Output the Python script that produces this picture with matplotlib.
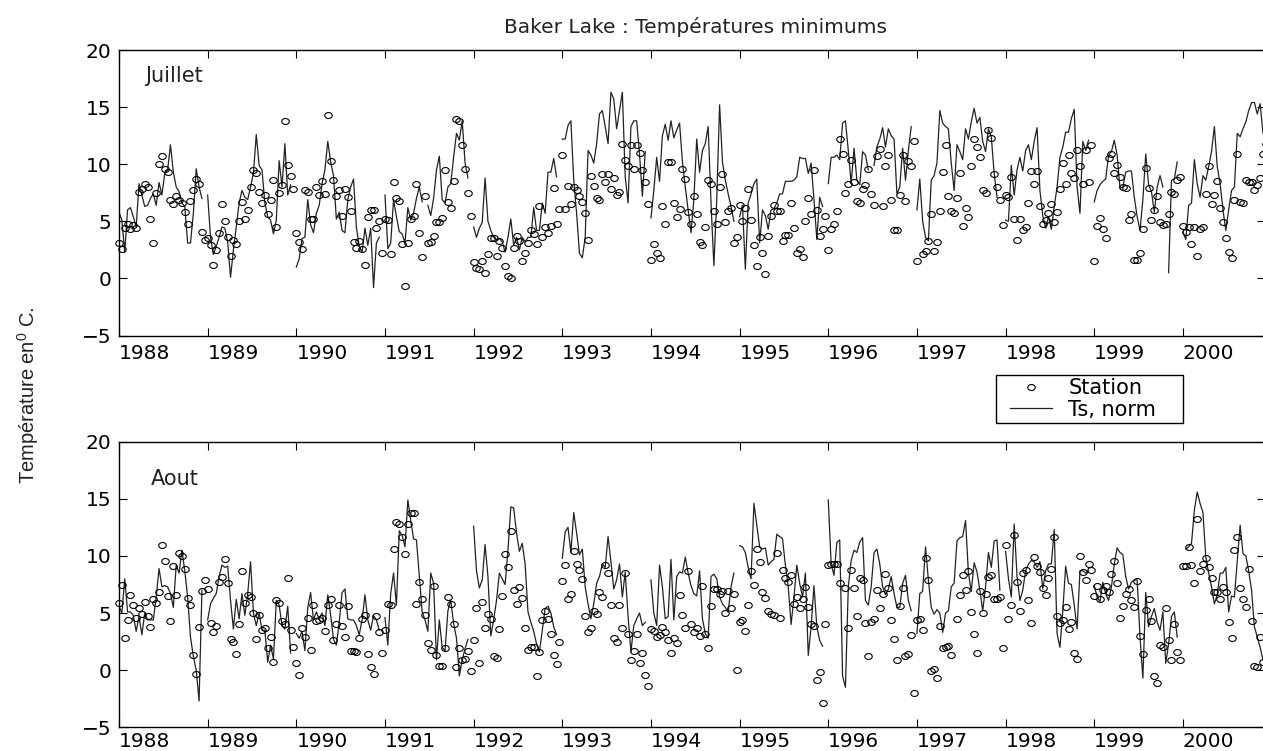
import matplotlib
matplotlib.use('Agg')
import matplotlib.pyplot as plt
import numpy as np
from matplotlib.legend_handler import HandlerLine2D
from matplotlib.lines import Line2D
from matplotlib.markers import MarkerStyle
from matplotlib.transforms import Affine2D

nan = float('nan')

annees = ['1988', '1989', '1990', '1991', '1992', '1993', '1994',
          '1995', '1996', '1997', '1998', '1999', '2000']

# une ligne par annee, 31 jours
station_juillet = [
    [3.1,2.6,4.4,4.75,4.3,4.7,4.4,7.6,7.8,8.3,8.0,5.2,3.1,7.5,10.0,10.7,9.6,9.3,6.9,6.5,7.2,6.9,6.6,5.8,4.8,6.8,7.7,8.7,8.3,4.1,3.4],
    [3.5,2.9,1.2,2.5,4.0,6.5,5.0,3.6,2.0,3.4,3.0,5.0,6.7,5.2,6.0,8.0,9.5,9.2,7.6,6.6,7.3,5.6,6.9,8.6,4.5,7.5,8.2,13.8,9.9,9.0,7.8],
    [4.0,3.2,2.6,7.7,7.6,5.2,5.2,8.0,7.3,8.5,7.4,14.3,10.3,8.6,7.2,7.7,5.5,7.8,7.1,5.9,3.2,2.7,3.3,2.6,1.2,5.4,6.0,6.0,4.4,5.0,2.2],
    [5.2,5.1,2.1,8.4,7.0,6.8,3.0,-0.7,3.1,5.2,5.5,8.3,4.0,1.9,7.2,3.1,3.2,3.7,4.9,4.9,5.3,9.5,6.7,6.2,8.5,14.0,13.8,11.7,9.6,7.5,5.5],
    [1.4,0.9,0.8,1.5,0.5,2.1,3.5,3.5,2.0,3.3,2.7,1.1,0.2,0.0,2.7,3.7,3.3,1.5,2.2,3.1,4.2,3.9,3.0,6.3,3.6,4.5,4.0,4.6,7.9,4.8,6.1],
    [10.8,6.1,8.1,6.5,8.0,7.7,7.2,6.7,5.7,3.4,9.0,8.1,7.0,6.9,9.1,8.4,9.1,7.8,8.8,7.3,7.6,11.8,10.4,9.8,11.7,9.6,11.7,11.0,9.5,8.4,6.5],
    [1.6,3.0,2.2,1.8,6.3,4.8,10.2,10.2,6.6,5.4,6.1,9.6,8.7,5.8,4.8,7.2,5.6,3.2,2.9,4.5,8.6,8.3,5.9,4.8,8.0,9.1,4.9,5.9,6.2,3.1,3.6],
    [6.4,5.0,6.2,7.8,5.1,2.9,1.1,3.6,2.2,0.4,3.7,5.5,6.4,5.9,5.9,3.3,3.8,3.8,6.6,4.4,2.2,2.6,1.9,5.0,7.0,5.6,9.5,6.0,3.7,4.3,5.5],
    [2.5,4.3,4.8,5.9,12.2,10.9,7.5,8.3,10.4,8.4,6.8,6.6,7.8,8.2,9.6,7.4,6.4,10.7,11.3,6.3,9.8,10.8,6.9,4.2,4.2,7.3,10.8,6.8,10.3,9.8,12.0],
    [1.5,nan,2.1,2.4,3.3,5.6,2.4,3.2,5.9,9.3,11.7,7.2,5.9,5.7,7.0,9.2,4.6,6.2,5.4,9.8,12.2,11.5,10.6,7.7,7.5,13.0,12.3,9.1,8.0,6.9,4.7],
    [7.3,7.1,8.9,5.2,3.4,5.2,4.2,4.5,6.6,9.4,8.3,9.4,6.3,4.8,5.1,5.7,6.5,4.9,5.8,7.8,10.1,8.3,10.8,9.2,8.8,11.2,9.8,8.3,11.2,8.4,11.7],
    [1.5,4.6,5.3,4.3,3.5,10.5,10.9,9.2,9.9,8.9,8.0,7.9,5.1,5.6,1.6,1.6,2.2,4.3,9.7,7.9,5.1,6.0,7.2,4.9,4.7,4.8,5.6,7.6,7.4,8.6,8.9],
    [4.6,4.1,4.5,3.0,4.5,2.0,4.3,4.5,7.4,9.8,6.5,7.3,8.5,6.2,4.9,3.5,2.3,1.8,6.9,10.9,6.7,6.6,8.6,8.4,8.4,7.7,8.2,8.8,10.9,11.8],
]

ts_juillet = [
    [5.8,5.1,2.3,6.0,6.2,5.4,4.5,8.3,7.3,6.3,6.4,7.0,7.4,6.4,8.4,7.3,9.2,9.5,11.7,9.3,8.0,7.6,6.6,6.3,3.1,3.1,5.7,9.6,8.0,7.0],
    [7.3,3.6,2.1,2.8,3.6,4.5,4.4,3.2,0.1,2.5,4.5,6.6,7.7,7.1,6.9,8.0,9.2,12.6,9.9,9.5,6.6,5.4,5.1,3.9,5.1,10.3,8.0,11.8,7.3,8.2],
    [1.0,1.7,3.5,3.6,6.9,4.7,4.0,5.7,6.4,8.3,9.5,12.0,10.2,9.0,5.2,5.8,4.2,4.0,6.9,8.0,8.7,4.5,2.8,2.3,4.4,2.9,4.4,-0.8,3.1,3.6],
    [7.3,2.6,3.1,6.9,5.4,4.1,3.9,3.1,6.2,5.1,5.7,7.0,8.0,6.7,nan,6.4,5.5,7.0,9.5,10.7,6.9,6.6,8.0,8.3,10.6,12.7,12.1,13.8,10.1,8.8],
    [4.5,3.6,4.4,4.9,8.8,5.0,4.2,3.6,3.4,3.5,3.2,2.3,3.6,5.2,2.9,3.6,2.5,3.6,3.2,3.6,3.6,6.2,4.2,4.2,6.6,5.7,9.3,9.3,10.5,8.9],
    [12.2,12.2,13.4,13.8,8.6,5.7,2.2,1.8,3.6,11.2,10.8,10.1,11.8,14.4,14.7,13.3,11.8,16.3,15.7,13.1,14.7,16.3,8.9,6.6,13.3,13.8,13.8,10.9,7.2,11.1],
    [5.3,7.7,10.6,8.5,12.5,13.5,12.1,13.8,12.3,13.0,13.6,10.2,8.0,6.0,4.0,6.9,12.2,9.3,11.2,11.8,13.3,6.6,1.1,6.9,15.2,10.2,8.6,7.4,6.3,5.0],
    [5.4,6.4,0.8,6.6,7.4,8.3,8.7,3.1,6.0,5.5,4.3,6.0,6.1,6.6,7.4,7.4,8.5,8.5,8.5,8.6,8.9,10.6,10.5,10.5,9.2,10.1,6.9,3.4,7.1,6.3],
    [8.3,10.6,10.6,10.8,10.4,13.6,13.8,11.2,8.3,11.4,8.6,8.2,11.1,10.8,9.5,nan,9.9,11.5,12.2,13.2,11.5,13.1,12.5,12.2,7.4,8.0,11.4,8.6,11.2,13.3],
    [6.0,8.7,5.0,3.6,3.3,8.6,9.0,10.1,14.7,13.6,13.3,13.1,10.1,7.7,11.7,11.1,10.4,13.1,12.2,13.7,14.9,13.6,14.1,12.0,11.1,13.1,12.4,9.2,7.1],
    [5.1,5.0,9.9,7.3,9.5,10.6,9.4,11.2,11.7,10.4,12.0,13.2,7.7,5.5,4.4,5.4,4.3,6.3,8.0,10.6,11.5,12.8,12.8,14.0,14.8,8.0,5.7,12.0,11.2,12.1],
    [6.7,7.7,8.2,8.5,8.7,10.8,11.1,12.1,10.8,7.9,8.0,9.3,9.4,9.4,7.1,5.4,4.2,6.9,10.9,8.2,7.6,5.8,8.0,9.0,8.0,nan,0.5,8.6,8.7,10.2],
    [4.1,3.4,6.4,6.6,10.4,8.3,7.1,9.0,8.6,9.8,11.1,13.3,9.8,8.3,6.0,4.2,6.0,7.7,8.0,12.7,12.4,13.1,13.7,14.7,15.4,15.4,14.4,15.3,12.7],
]

station_aout = [
    [5.9,7.5,2.8,4.4,6.6,5.7,4.6,5.4,4.9,6.0,4.7,3.8,6.2,5.9,6.8,11.0,9.6,6.5,4.3,9.1,6.6,10.3,10.0,8.9,6.3,5.7,1.3,-0.3,3.8,6.9,7.9],
    [7.1,4.1,3.3,3.9,7.7,8.2,9.7,7.6,2.7,2.5,1.4,4.0,8.7,5.9,6.6,6.4,5.0,2.7,4.8,3.5,3.7,1.9,2.9,0.7,6.1,5.9,4.3,4.0,8.1,3.5,2.0],
    [0.6,-0.4,3.7,2.9,4.6,1.8,5.7,4.3,4.4,4.6,3.4,5.7,6.2,2.6,4.0,5.7,3.9,2.9,5.6,1.7,1.7,1.6,2.8,4.5,4.8,1.4,0.3,-0.3,4.7,3.3,1.5],
    [3.5,5.8,5.7,10.6,13.0,12.8,11.7,10.2,12.8,13.8,13.8,5.8,7.7,6.2,4.8,2.4,1.8,7.4,1.3,0.4,0.4,1.9,6.4,5.8,4.0,0.3,1.9,0.9,1.0,1.7,-0.1],
    [2.6,5.4,0.6,6.0,3.7,4.9,4.5,1.2,1.1,3.6,6.5,10.2,9.0,12.2,7.0,5.8,7.3,6.3,3.7,1.8,2.0,2.0,-0.5,1.6,4.4,5.2,4.5,3.2,1.3,0.5,2.5],
    [7.8,9.2,6.2,6.7,10.4,9.3,8.8,8.0,4.7,3.3,3.7,5.2,4.9,6.8,6.4,9.2,8.5,5.7,2.8,2.5,5.7,3.7,8.5,3.2,0.9,1.7,3.2,0.6,1.5,-0.4,-1.4],
    [3.6,3.4,2.9,3.1,3.8,3.3,2.6,1.5,2.8,2.4,6.6,4.8,3.7,8.7,4.0,3.3,3.7,3.0,7.4,3.2,1.9,5.6,7.1,7.1,6.7,6.9,5.0,6.9,5.4,6.7,0.0],
    [4.2,4.4,3.4,5.7,8.7,7.5,10.6,9.5,6.8,6.3,5.2,4.9,4.8,10.3,4.6,8.8,8.1,7.7,8.3,5.8,6.4,5.4,6.2,7.3,5.5,4.0,3.9,-0.9,-0.2,-2.9,4.0],
    [9.2,9.3,9.3,9.3,7.6,nan,7.2,3.7,8.8,7.2,4.7,8.1,7.9,4.1,1.2,4.2,4.5,7.0,5.4,6.7,8.4,7.2,4.4,2.7,0.9,5.6,7.2,1.2,1.4,3.1,-2.0],
    [4.4,4.5,3.5,9.8,7.9,-0.1,0.1,-0.7,3.9,1.9,2.0,2.1,1.3,nan,4.5,6.6,8.3,7.0,8.7,5.1,3.2,1.5,6.9,5.0,6.7,8.2,8.3,6.2,6.2,6.4,1.9],
    [11.0,4.5,5.7,11.8,7.7,5.2,8.5,8.8,6.1,4.1,9.9,9.1,8.6,7.2,6.6,8.1,8.9,11.7,4.7,4.1,4.4,5.5,3.6,4.2,1.5,1.0,10.0,8.6,7.9,9.3,8.8],
    [6.5,7.4,6.2,7.0,7.4,6.8,8.4,9.6,7.6,4.6,5.6,6.7,7.1,6.1,5.5,7.8,3.0,1.4,5.3,6.2,4.3,-0.5,-1.1,2.2,2.0,5.4,2.6,0.9,4.0,1.6,0.9],
    [9.1,9.1,10.8,9.2,7.6,13.2,8.7,9.3,9.8,9.0,8.1,6.8,6.8,6.2,7.3,6.8,4.2,2.8,10.5,11.7,7.2,6.2,5.5,8.9,4.3,0.4,0.3,2.9,0.7],
]

ts_aout = [
    [5.6,5.0,8.0,5.1,5.1,4.8,3.4,4.7,3.1,5.0,4.4,4.4,4.4,6.4,8.9,7.3,7.4,7.3,6.7,5.5,9.2,8.5,10.5,8.7,6.4,2.9,1.2,0.0,-2.7,7.0],
    [4.4,5.8,6.3,6.7,8.2,9.2,9.0,9.1,6.1,3.6,6.2,4.5,6.7,4.8,6.7,9.5,5.0,3.9,5.0,3.5,3.5,0.7,2.2,1.0,6.1,5.7,3.9,3.6,5.6,1.5],
    [3.2,2.8,3.4,1.7,5.5,6.8,4.4,5.1,4.5,5.0,3.9,6.6,4.8,2.7,2.2,4.2,6.8,7.1,4.5,4.4,4.4,3.9,3.1,4.4,6.6,4.4,3.5,4.8,4.4,3.5],
    [4.6,2.2,6.7,8.5,5.7,12.2,11.8,10.8,14.9,13.1,11.5,11.4,8.2,5.1,4.4,3.4,8.5,7.6,0.9,4.4,2.0,1.7,5.2,6.1,4.1,2.8,-0.5,0.9,1.9,2.7],
    [12.6,8.7,7.2,7.9,11.0,8.2,3.0,4.4,6.1,8.5,8.0,7.5,10.5,14.3,14.2,12.0,10.4,11.1,9.3,5.1,4.2,3.4,2.3,1.6,3.5,5.4,5.6,5.0,3.8,3.1],
    [9.8,12.1,12.5,10.3,13.8,12.0,10.1,10.6,7.3,5.8,4.5,5.8,7.6,8.2,9.3,9.0,11.7,9.5,7.1,7.9,9.3,6.4,8.6,4.7,1.6,3.9,4.5,5.0,3.9,4.2],
    [7.9,5.0,3.9,9.2,7.3,4.5,4.7,9.7,4.4,8.2,8.6,8.5,9.9,8.5,7.4,6.7,6.5,8.7,4.5,3.2,2.8,8.2,8.4,8.0,6.4,5.8,5.5,5.1,7.3,8.5],
    [10.9,10.8,10.3,9.0,8.0,14.6,12.7,10.8,10.6,10.7,9.2,9.5,9.7,11.9,11.7,11.5,9.2,7.3,4.0,6.4,9.2,7.6,6.4,8.5,1.3,3.8,7.4,3.8,2.6,2.1],
    [14.9,9.3,8.3,11.2,11.4,-0.5,-1.5,7.3,9.6,10.5,10.3,11.2,11.6,6.1,5.7,7.3,10.3,10.6,9.3,7.3,6.6,7.1,8.2,6.7,5.5,5.5,7.6,8.3,6.1,5.2],
    [3.2,6.7,6.9,10.8,7.9,5.5,4.9,5.3,5.0,3.3,5.0,5.2,7.3,7.6,11.3,11.6,11.7,13.1,8.5,6.9,9.4,8.6,7.0,5.2,7.3,10.3,9.0,11.3,11.4,7.0],
    [10.4,8.0,6.4,12.8,8.2,6.1,7.0,8.7,9.3,9.6,9.5,9.0,9.5,7.1,8.7,9.3,9.3,12.3,3.2,2.0,5.2,9.1,7.6,7.5,5.7,3.6,8.7,8.7,8.5,8.7],
    [7.4,6.4,6.0,7.7,6.7,6.1,7.3,9.3,10.7,10.3,10.1,8.2,7.1,7.7,7.9,7.9,2.9,-0.7,6.8,3.8,4.7,5.4,4.2,3.5,5.1,0.6,2.3,4.7,5.1,2.9],
    [nan,10.6,10.8,11.1,14.0,15.6,14.6,13.8,9.9,8.5,7.3,5.8,6.6,8.5,8.5,9.0,5.1,6.5,6.4,9.6,12.7,10.2,10.0,8.7,7.0,3.8,2.9,2.0,0.9],
]

W, H = 1263, 751
jours = 31


def serie(lignes):
    # met les annees bout a bout, la fin d'annee reste vide
    vals = []
    for l in lignes:
        vals += l + [nan] * (jours - len(l))
    return np.arange(1, len(vals) + 1), np.array(vals)


def panneau(top, bottom, sta, ts, nom, nx, ny, xpad):
    ax = fig.add_axes([119 / W, 1 - bottom / H, (1265 - 119) / W, (bottom - top) / H])
    x, y = serie(ts)
    lgn, = ax.plot(x, y, color='#222222', lw=0.9, label='Ts, norm')
    x, y = serie(sta)
    mk = MarkerStyle('o', fillstyle='none', transform=Affine2D().scale(1.25, 1))
    pts, = ax.plot(x, y, ls='none', marker=mk, ms=4.3, mew=0.8, color='black',
                   label='Station', clip_on=False)
    ax.set_xlim(1, 401.7)
    ax.set_ylim(-5, 20)
    ax.set_yticks([-5, 0, 5, 10, 15, 20])
    pos = [1 + jours * i for i in range(len(annees))]
    ax.set_xticks(pos)
    ax.set_xticklabels(annees, ha='left')
    ax.tick_params(direction='in', length=5.8, width=0.8, top=True, right=True,
                   labelsize=14.5, pad=xpad)
    ax.tick_params(axis='y', pad=5.5)
    ax.text(nx, ny, nom, fontsize=15, va='center', ha='left', color='#222222')
    for s in ax.spines.values():
        s.set_linewidth(1.0)
    return ax, pts, lgn


plt.rcParams['font.family'] = ['DejaVu Sans']
fig = plt.figure(figsize=(W / 100, H / 100), dpi=100)

ax1, pts, lgn = panneau(50, 335.5, station_juillet, ts_juillet, 'Juillet', 10, 17.7, 6)
ax2, _, _ = panneau(441.7, 727.3, station_aout, ts_aout, 'Aout', 12, 16.7, 3.5)

fig.text(696 / W, 1 - 27 / H, 'Baker Lake : Températures minimums', ha='center',
         va='center', fontsize=14.5, color='#222222')
fig.text(28 / W, 1 - 395 / H, 'Température en$^{\\mathregular{0}}$ C.', rotation=90,
         ha='center', va='center', fontsize=14.5, family='Liberation Sans', color='#222222')

fig.legend([pts, lgn], ['Station', 'Ts, norm'], loc='center',
           bbox_to_anchor=(996 / W, 1 - 423 / H, 187 / W, 48 / H), mode='expand',
           fontsize=15, fancybox=False, framealpha=1, edgecolor='black',
           labelspacing=0.05, borderpad=0.15, handlelength=2.53, handletextpad=0.8,
           borderaxespad=0,
           handler_map={Line2D: HandlerLine2D(xpad=0.53)}).get_frame().set_linewidth(1.0)

fig.savefig('out.png', dpi=100)
